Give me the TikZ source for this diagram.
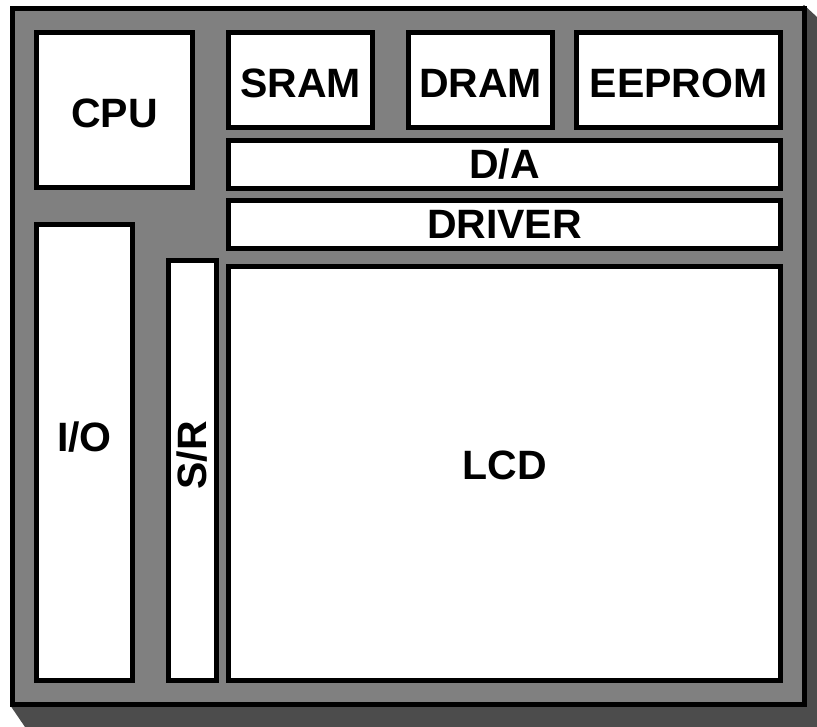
\documentclass[tikz,border=0pt]{standalone}
\usepackage{fontspec}
\setmainfont{Liberation Sans}
\usetikzlibrary{fit}

\definecolor{panel}{gray}{0.5}
\definecolor{boardshadow}{gray}{0.3}

\begin{document}
\begin{tikzpicture}[x=1pt,y=-1pt,
        box/.style={draw, fill=white, line width=5pt, inner sep=0pt},
        lbl/.style={font=\bfseries\fontsize{41}{41}\selectfont}]
        \useasboundingbox (0,0) rectangle (817,727);
        % board with its shadow
        \fill[boardshadow] (804,5) -- (817,17) -- (817,727) -- (25,727) -- (10,705) -- cycle;
        \draw[line width=5pt, fill=panel] (12.5,8.5) rectangle (804.5,704.5);
        \foreach \n/\x/\y/\X/\Y in {cpu/36.5/32.5/192.5/187.5, sram/228.5/32.5/372.5/127.5,
                dram/408.5/32.5/552.5/127.5, eeprom/576.5/32.5/780.5/127.5,
                da/228.5/140.5/780.5/188.5, driver/228.5/200.5/780.5/248.5,
                lcd/228.5/266.5/780.5/680, io/36.5/224.5/132.5/680, sr/168.5/260.5/216.5/680}
            \node[box, fit={(\x,\y) (\X,\Y)}] (\n) {};
        \foreach \n/\t/\s in {cpu/CPU/-3, sram/SRAM/-3, dram/DRAM/-3, eeprom/EEPROM/-3,
                da/D\slash A/0, driver/DRIVER/0, io/I\slash O/15, lcd/LCD/8}
            \node[lbl] (\n-t) at ([yshift=\s pt]\n.center) {\t};
        \node[lbl, rotate=90] (sr-t) at ([yshift=15pt]sr.center) {S/R};
    \end{tikzpicture}
\end{document}
